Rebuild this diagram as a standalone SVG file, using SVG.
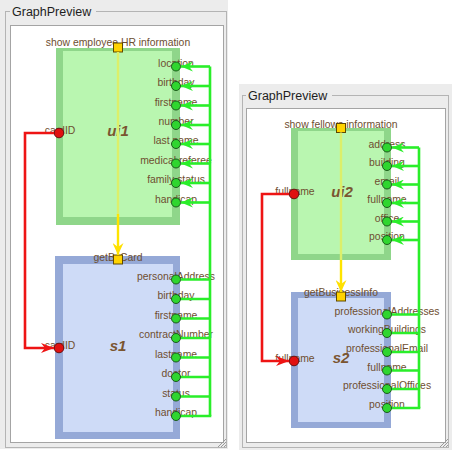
<svg xmlns="http://www.w3.org/2000/svg" width="452" height="456" viewBox="0 0 452 456">
<defs>
<style>
.lbl{font-family:"Liberation Sans",Arial,sans-serif;font-size:10.4px;fill:#6e4e30;text-anchor:middle}
.nm{font-family:"Liberation Sans",Arial,sans-serif;font-size:15px;font-weight:bold;font-style:italic;fill:#7a5530;text-anchor:middle}
.ttl{font-family:"Liberation Sans",Arial,sans-serif;font-size:12.5px;fill:#1e1e1e}
.panel{fill:#ececec}
.gbox{fill:none;stroke:#b4b4b4;stroke-width:1}
.inner{fill:#ffffff;stroke:#a4a4a4;stroke-width:1}
.gO{fill:#8fd68a}.gI{fill:#b9f6b0}
.bO{fill:#95a9d7}.bI{fill:#cedbf7}
.gp{fill:#2fd62f;stroke:#1c5a1c;stroke-width:1}
.rp{fill:#e01010;stroke:#6a1010;stroke-width:1}
.sq{fill:#ffd300;stroke:#5e4800;stroke-width:1}
.gl{fill:none;stroke:#2aee2a;stroke-width:2.6}
.rl{fill:none;stroke:#ee1414;stroke-width:2.6}
.yl{fill:none;stroke-width:2.4}
.grip{stroke:#9a9a9a;stroke-width:1}
</style>
<marker id="ga" viewBox="0 0 12 10" refX="12" refY="5" markerWidth="12" markerHeight="10" orient="auto" markerUnits="userSpaceOnUse"><path d="M0,0 L12,5 L0,10 L4,5 z" fill="#2aee2a"/></marker>
<marker id="ra" viewBox="0 0 13 10" refX="13" refY="5" markerWidth="13" markerHeight="10" orient="auto" markerUnits="userSpaceOnUse"><path d="M0,0 L13,5 L0,10 L4,5 z" fill="#ee1414"/></marker>
<marker id="ya" viewBox="0 0 12 11" refX="12" refY="5.5" markerWidth="12" markerHeight="11" orient="auto" markerUnits="userSpaceOnUse"><path d="M0,0 L12,5.5 L0,11 L4,5.5 z" fill="#ffe000"/></marker>
<linearGradient id="yg1" gradientUnits="userSpaceOnUse" x1="0" y1="52" x2="0" y2="255"><stop offset="0" stop-color="#dcef6a"/><stop offset="0.8" stop-color="#dcef6a"/><stop offset="0.8" stop-color="#ffe400"/><stop offset="1" stop-color="#ffe400"/></linearGradient>
<linearGradient id="yg2" gradientUnits="userSpaceOnUse" x1="0" y1="132" x2="0" y2="292"><stop offset="0" stop-color="#dcef6a"/><stop offset="0.8" stop-color="#dcef6a"/><stop offset="0.8" stop-color="#ffe400"/><stop offset="1" stop-color="#ffe400"/></linearGradient>
</defs>

<g id="panel-left">
<rect class="panel" x="0" y="0" width="228" height="449"/>
<rect class="gbox" x="5.5" y="11.5" width="221" height="436"/>
<rect class="panel" x="10" y="4" width="86" height="14"/>
<text class="ttl" x="12" y="16">GraphPreview</text>
<rect class="inner" x="10.5" y="25.5" width="213" height="417"/>
<path class="grip" d="M218,447 L226,439 M221,447 L226,442 M224,447 L226,445"/>
</g>
<g id="panel-right">
<rect class="panel" x="239" y="84" width="213" height="366"/>
<rect class="gbox" x="242.5" y="95.5" width="206" height="352"/>
<rect class="panel" x="246" y="88" width="86" height="14"/>
<text class="ttl" x="248" y="99.5">GraphPreview</text>
<rect class="inner" x="246.5" y="108.5" width="199" height="334"/>
<path class="grip" d="M440,447 L448,439 M443,447 L448,442 M446,447 L448,445"/>
</g>

<g id="ui1">
<rect class="gO" x="56" y="48" width="124" height="177"/>
<rect class="gI" x="63" y="51" width="109" height="166"/>
<text class="nm" x="118" y="136">ui1</text>
<text class="lbl" x="118" y="46">show employee HR information</text>
<text class="lbl" x="60" y="134">cardID</text>
<text class="lbl" x="176" y="66.5">location</text>
<text class="lbl" x="176" y="86">birthday</text>
<text class="lbl" x="176" y="105.5">firstname</text>
<text class="lbl" x="176" y="125">number</text>
<text class="lbl" x="176" y="144">last name</text>
<text class="lbl" x="176" y="163.5">medical referee</text>
<text class="lbl" x="176" y="183">family status</text>
<text class="lbl" x="176" y="202.5">handicap</text>
<rect class="sq" x="113.5" y="43" width="9" height="9"/>
<circle class="rp" cx="59" cy="133" r="4.8"/>
<circle class="gp" cx="176" cy="66.5" r="4.5"/>
<circle class="gp" cx="176" cy="86" r="4.5"/>
<circle class="gp" cx="176" cy="105.5" r="4.5"/>
<circle class="gp" cx="176" cy="125" r="4.5"/>
<circle class="gp" cx="176" cy="144" r="4.5"/>
<circle class="gp" cx="176" cy="163.5" r="4.5"/>
<circle class="gp" cx="176" cy="183" r="4.5"/>
<circle class="gp" cx="176" cy="202.5" r="4.5"/>
</g>

<g id="s1">
<rect class="bO" x="55" y="256" width="125" height="183"/>
<rect class="bI" x="63" y="264" width="110" height="168"/>
<text class="nm" x="118" y="351">s1</text>
<text class="lbl" x="118" y="261">getByCard</text>
<text class="lbl" x="60" y="349">cardID</text>
<text class="lbl" x="176" y="279.5">personalAddress</text>
<text class="lbl" x="176" y="299">birthday</text>
<text class="lbl" x="176" y="318.5">firstname</text>
<text class="lbl" x="176" y="338">contractNumber</text>
<text class="lbl" x="176" y="357.5">lastname</text>
<text class="lbl" x="176" y="377">doctor</text>
<text class="lbl" x="176" y="396.5">status</text>
<text class="lbl" x="176" y="416">handicap</text>
<rect class="sq" x="113.5" y="255" width="9" height="9"/>
<circle class="rp" cx="59" cy="348" r="4.8"/>
<circle class="gp" cx="176" cy="279.5" r="4.5"/>
<circle class="gp" cx="176" cy="299" r="4.5"/>
<circle class="gp" cx="176" cy="318.5" r="4.5"/>
<circle class="gp" cx="176" cy="338" r="4.5"/>
<circle class="gp" cx="176" cy="357.5" r="4.5"/>
<circle class="gp" cx="176" cy="377" r="4.5"/>
<circle class="gp" cx="176" cy="396.5" r="4.5"/>
<circle class="gp" cx="176" cy="416" r="4.5"/>
</g>

<g id="ui2">
<rect class="gO" x="291" y="128" width="100" height="132"/>
<rect class="gI" x="298" y="131" width="86" height="123"/>
<text class="nm" x="342" y="197">ui2</text>
<text class="lbl" x="341" y="128">show fellows information</text>
<text class="lbl" x="295" y="195">fullname</text>
<text class="lbl" x="387" y="147.5">address</text>
<text class="lbl" x="387" y="166">building</text>
<text class="lbl" x="387" y="184.5">email</text>
<text class="lbl" x="387" y="203">fullname</text>
<text class="lbl" x="387" y="221.5">office</text>
<text class="lbl" x="387" y="240">position</text>
<rect class="sq" x="336.5" y="123.5" width="9" height="9"/>
<circle class="rp" cx="294" cy="194" r="4.8"/>
<circle class="gp" cx="387" cy="147.5" r="4.5"/>
<circle class="gp" cx="387" cy="166" r="4.5"/>
<circle class="gp" cx="387" cy="184.5" r="4.5"/>
<circle class="gp" cx="387" cy="203" r="4.5"/>
<circle class="gp" cx="387" cy="221.5" r="4.5"/>
<circle class="gp" cx="387" cy="240" r="4.5"/>
</g>

<g id="s2">
<rect class="bO" x="291" y="292" width="100" height="136"/>
<rect class="bI" x="298" y="298" width="86" height="124"/>
<text class="nm" x="341" y="363">s2</text>
<text class="lbl" x="341" y="296">getBusinessInfo</text>
<text class="lbl" x="295" y="362">fullname</text>
<text class="lbl" x="387" y="314.5">professionalAddresses</text>
<text class="lbl" x="387" y="333">workingBuildings</text>
<text class="lbl" x="387" y="352">professionalEmail</text>
<text class="lbl" x="387" y="370.5">fullname</text>
<text class="lbl" x="387" y="389">professionalOffices</text>
<text class="lbl" x="387" y="408">position</text>
<rect class="sq" x="336.5" y="292" width="9" height="9"/>
<circle class="rp" cx="294" cy="361" r="4.8"/>
<circle class="gp" cx="387" cy="314.5" r="4.5"/>
<circle class="gp" cx="387" cy="333" r="4.5"/>
<circle class="gp" cx="387" cy="352" r="4.5"/>
<circle class="gp" cx="387" cy="370.5" r="4.5"/>
<circle class="gp" cx="387" cy="389" r="4.5"/>
<circle class="gp" cx="387" cy="408" r="4.5"/>
</g>

<g id="connectors">
<path class="yl" stroke="url(#yg1)" d="M118,52 L118,255" marker-end="url(#ya)"/>
<path class="yl" stroke="url(#yg2)" d="M341,132.5 L341,292" marker-end="url(#ya)"/>
<path class="rl" d="M54,133 L25,133 L25,348 L54,348" marker-end="url(#ra)"/>
<path class="rl" d="M289,194 L262,194 L262,361 L289,361" marker-end="url(#ra)"/>
<path class="gl" d="M210,66.5 L210,416"/>
<path class="gl" d="M210,66.5 L181,66.5" marker-end="url(#ga)"/>
<path class="gl" d="M210,86 L181,86" marker-end="url(#ga)"/>
<path class="gl" d="M210,105.5 L181,105.5" marker-end="url(#ga)"/>
<path class="gl" d="M210,125 L181,125" marker-end="url(#ga)"/>
<path class="gl" d="M210,144 L181,144" marker-end="url(#ga)"/>
<path class="gl" d="M210,163.5 L181,163.5" marker-end="url(#ga)"/>
<path class="gl" d="M210,183 L181,183" marker-end="url(#ga)"/>
<path class="gl" d="M210,202.5 L181,202.5" marker-end="url(#ga)"/>
<path class="gl" d="M181,279.5 L210,279.5 M181,299 L210,299 M181,318.5 L210,318.5 M181,338 L210,338 M181,357.5 L210,357.5 M181,377 L210,377 M181,396.5 L210,396.5 M181,416 L211.3,416"/>
<path class="gl" d="M419,147.5 L419,408"/>
<path class="gl" d="M419,147.5 L392,147.5" marker-end="url(#ga)"/>
<path class="gl" d="M419,166 L392,166" marker-end="url(#ga)"/>
<path class="gl" d="M419,184.5 L392,184.5" marker-end="url(#ga)"/>
<path class="gl" d="M419,203 L392,203" marker-end="url(#ga)"/>
<path class="gl" d="M419,221.5 L392,221.5" marker-end="url(#ga)"/>
<path class="gl" d="M419,240 L392,240" marker-end="url(#ga)"/>
<path class="gl" d="M392,314.5 L419,314.5 M392,333 L419,333 M392,352 L419,352 M392,370.5 L419,370.5 M392,389 L419,389 M392,408 L420.3,408"/>
</g>
</svg>
